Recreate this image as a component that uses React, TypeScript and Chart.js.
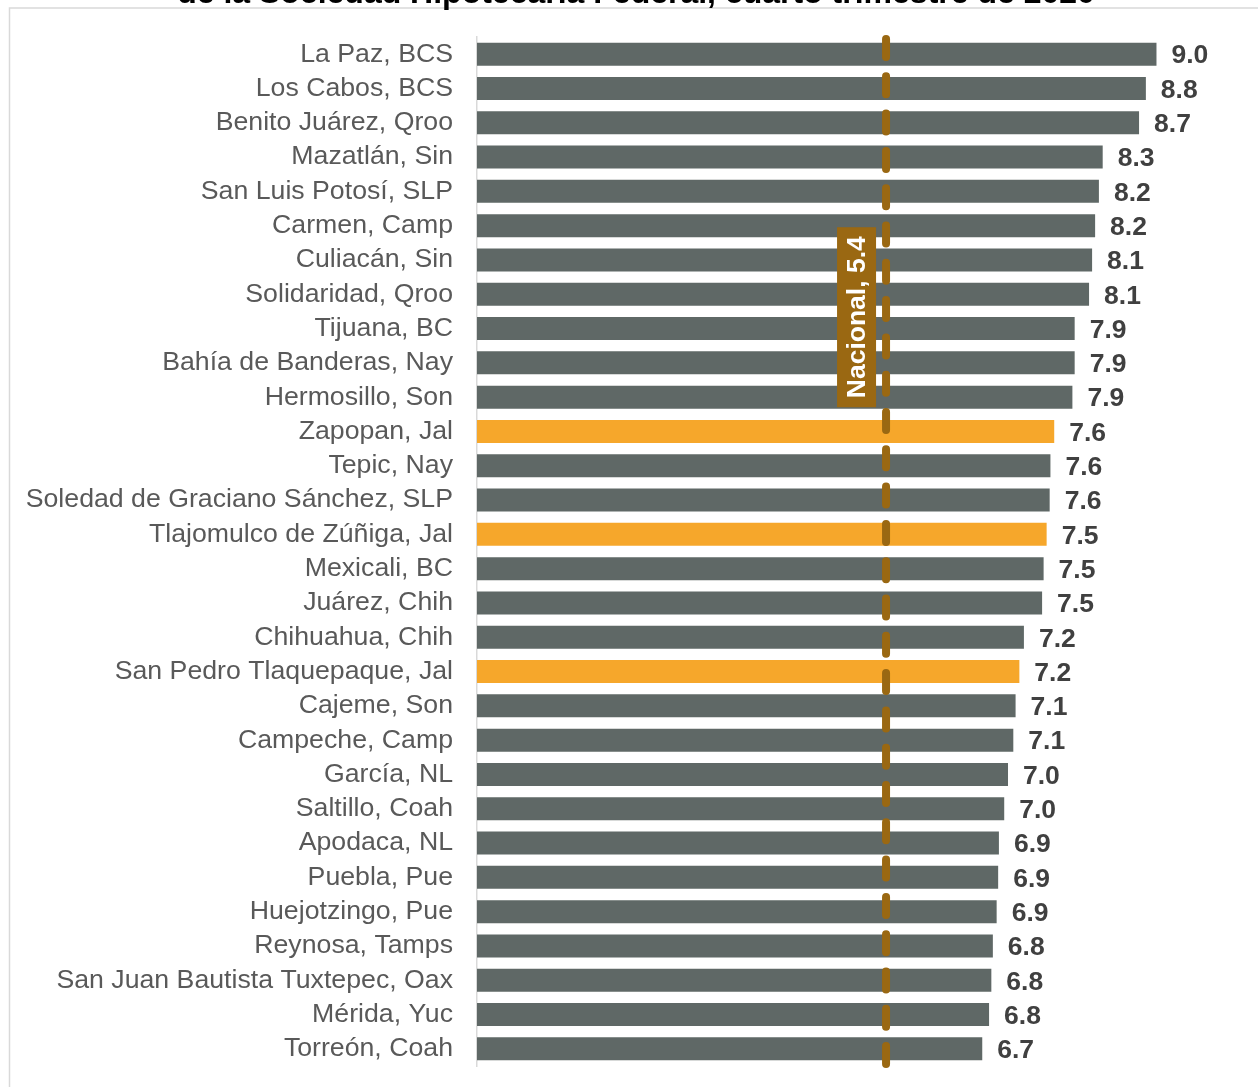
import React, { useEffect, useRef } from "react";
import { Chart, registerables } from "chart.js";

Chart.register(...registerables);

const titleText = "de la Sociedad Hipotecaria Federal, cuarto trimestre de 2020";

const categories = [
  "La Paz, BCS",
  "Los Cabos, BCS",
  "Benito Juárez, Qroo",
  "Mazatlán, Sin",
  "San Luis Potosí, SLP",
  "Carmen, Camp",
  "Culiacán, Sin",
  "Solidaridad, Qroo",
  "Tijuana, BC",
  "Bahía de Banderas, Nay",
  "Hermosillo, Son",
  "Zapopan, Jal",
  "Tepic, Nay",
  "Soledad de Graciano Sánchez, SLP",
  "Tlajomulco de Zúñiga, Jal",
  "Mexicali, BC",
  "Juárez, Chih",
  "Chihuahua, Chih",
  "San Pedro Tlaquepaque, Jal",
  "Cajeme, Son",
  "Campeche, Camp",
  "García, NL",
  "Saltillo, Coah",
  "Apodaca, NL",
  "Puebla, Pue",
  "Huejotzingo, Pue",
  "Reynosa, Tamps",
  "San Juan Bautista Tuxtepec, Oax",
  "Mérida, Yuc",
  "Torreón, Coah",
];

const values = [
  8.97, 8.83, 8.74, 8.26, 8.21, 8.16, 8.12, 8.08, 7.89, 7.89, 7.86, 7.62, 7.57,
  7.56, 7.52, 7.48, 7.46, 7.22, 7.16, 7.11, 7.08, 7.01, 6.96, 6.89, 6.88, 6.86,
  6.81, 6.79, 6.76, 6.67,
];

const highlighted = ["Zapopan, Jal", "Tlajomulco de Zúñiga, Jal", "San Pedro Tlaquepaque, Jal"];

const nacionalValue = 5.4;
const nacionalLabel = "Nacional, 5.4";

const GRAY = "#5f6866";
const ORANGE = "#f6a72b";
const BROWN = "#9a6812";
const FONT = "'Liberation Sans', Arial, sans-serif";

export default function App() {
  const canvasRef = useRef<HTMLCanvasElement | null>(null);

  useEffect(() => {
    document.body.style.margin = "0";
    const canvas = canvasRef.current;
    if (!canvas) return;

    const framePlugin = {
      id: "frame",
      beforeDraw(chart: any) {
        const ctx = chart.ctx;
        ctx.save();
        ctx.strokeStyle = "#d9d9d9";
        ctx.lineWidth = 1.5;
        ctx.beginPath();
        ctx.moveTo(9.5, 1087);
        ctx.lineTo(9.5, 8);
        ctx.lineTo(1258, 8);
        ctx.stroke();
        ctx.fillStyle = "#000000";
        ctx.font = `bold 32px ${FONT}`;
        ctx.textAlign = "center";
        ctx.textBaseline = "alphabetic";
        ctx.fillText(titleText, 636, 3);
        ctx.restore();
      },
    };

    const labelsPlugin = {
      id: "valueLabels",
      afterDatasetsDraw(chart: any) {
        const ctx = chart.ctx;
        const meta = chart.getDatasetMeta(0);
        ctx.save();
        ctx.font = `bold 26.5px ${FONT}`;
        ctx.fillStyle = "#404040";
        ctx.textAlign = "left";
        ctx.textBaseline = "middle";
        meta.data.forEach((bar: any, i: number) => {
          ctx.fillText(values[i].toFixed(1), bar.x + 15, bar.y + 2);
        });
        ctx.restore();
      },
      afterDraw(chart: any) {
        const ctx = chart.ctx;
        const xs = chart.scales.x;
        const ys = chart.scales.y;
        const area = chart.chartArea;
        const lx = xs.getPixelForValue(nacionalValue);
        ctx.save();
        ctx.strokeStyle = BROWN;
        ctx.lineWidth = 8;
        ctx.lineCap = "round";
        ctx.setLineDash([18, 19.3]);
        ctx.beginPath();
        ctx.moveTo(lx, area.top + 2);
        ctx.lineTo(lx, area.bottom + 3);
        ctx.stroke();
        ctx.setLineDash([]);
        // label box
        const cy = ys.getPixelForValue(7.67);
        const bw = 39;
        const bh = 180;
        const right = lx - 10;
        ctx.fillStyle = BROWN;
        ctx.fillRect(right - bw, cy - bh / 2, bw, bh);
        ctx.translate(right - bw / 2, cy);
        ctx.rotate(-Math.PI / 2);
        ctx.fillStyle = "#ffffff";
        ctx.font = `bold 26.5px ${FONT}`;
        ctx.textAlign = "center";
        ctx.textBaseline = "middle";
        ctx.fillText(nacionalLabel, 0, 1);
        ctx.restore();
      },
    };

    const chart = new Chart(canvas, {
      type: "bar",
      data: {
        labels: categories,
        datasets: [
          {
            data: values,
            backgroundColor: categories.map((c) => (highlighted.includes(c) ? ORANGE : GRAY)),
            borderWidth: 0,
            barPercentage: 0.67,
            categoryPercentage: 1,
          },
        ],
      },
      options: {
        indexAxis: "y",
        animation: false,
        responsive: false,
        maintainAspectRatio: false,
        layout: { padding: { top: 37, bottom: 21, right: 23.5, left: 0 } },
        plugins: {
          legend: { display: false },
          tooltip: { enabled: false },
          title: { display: false },
        },
        scales: {
          x: {
            display: false,
            min: 0,
            max: 10,
          },
          y: {
            grid: { display: false, drawTicks: false },
            border: { display: true, color: "#d9d9d9", width: 1.5 },
            ticks: {
              color: "#595959",
              font: { family: FONT, size: 26.7 },
              padding: 24,
              autoSkip: false,
            },
            afterFit(scale: any) {
              scale.width = 477;
              scale.paddingTop = 0;
              scale.paddingBottom = 0;
            },
          },
        },
      },
      plugins: [framePlugin, labelsPlugin],
    });

    return () => chart.destroy();
  }, []);

  return <canvas ref={canvasRef} width={1258} height={1087} style={{ display: "block" }} />;
}
